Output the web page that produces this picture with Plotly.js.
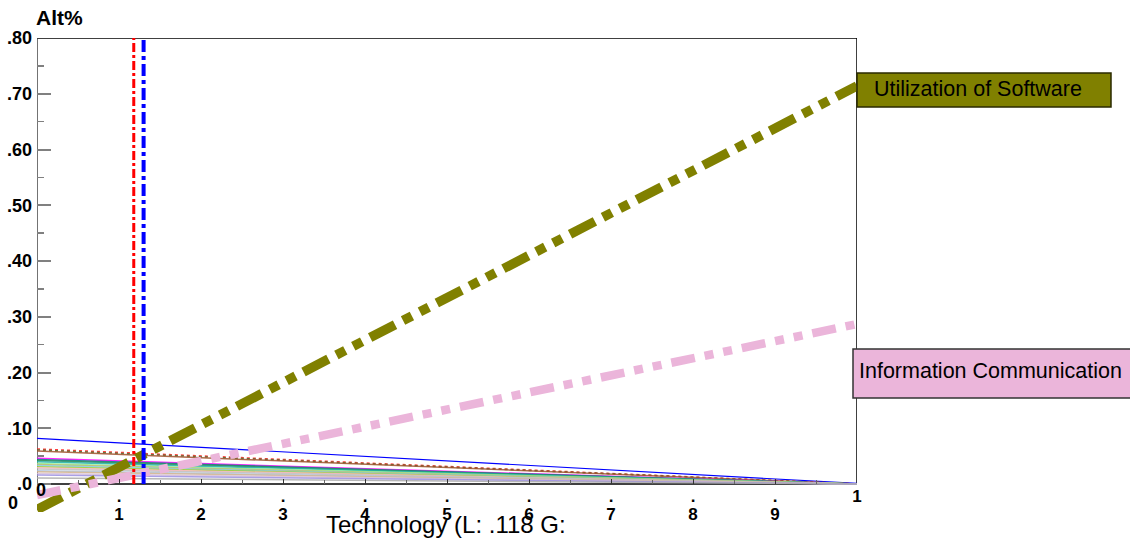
<!DOCTYPE html>
<html>
<head>
<meta charset="utf-8">
<script src="https://cdn.plot.ly/plotly-3.0.1.min.js"></script>
<style>html,body{margin:0;padding:0;background:#fff;}#chart{width:1130px;height:542px;}</style>
</head>
<body>
<div id="chart"></div>
<script>
// ---- data ----
var xEnds = [0, 1];
var softwareName = "Utilization of Software";
var softwareValues = [-0.046, 0.714];
var infoName = "Information Communication";
var infoValues = [-0.020, 0.287];
var localCut = 0.118;   // L
var globalCut = 0.130;  // G
var cutRange = [0, 0.8];
var clusterStart = [0.082, 0.063, 0.061, 0.059, 0.046, 0.044, 0.042, 0.040, 0.037, 0.035, 0.033, 0.031, 0.029, 0.027, 0.024, 0.022, 0.019, 0.016, 0.011];
var clusterEnd   = [0.001, 0.000, 0.000, 0.000, 0.000, 0.000, 0.000, 0.000, 0.000, 0.000, 0.000, 0.000, 0.000, 0.000, 0.000, 0.000, 0.000, 0.000, 0.000];
var yTickVals = [0, 0.1, 0.2, 0.3, 0.4, 0.5, 0.6, 0.7, 0.8];
var yTickText = [".0", ".10", ".20", ".30", ".40", ".50", ".60", ".70", ".80"];
var xTickVals = [0.1, 0.2, 0.3, 0.4, 0.5, 0.6, 0.7, 0.8, 0.9];
var xTickText = ["1", "2", "3", "4", "5", "6", "7", "8", "9"];
var xDotVals = [0.1, 0.2, 0.3, 0.4, 0.5, 0.6, 0.7, 0.8, 0.9, 1];
var xDotText = [".", ".", ".", ".", ".", ".", ".", ".", ".", "1"];
var yTitle = "Alt%";
var xTitle = "Technology (L: .118 G:";

// ---- styles ----
var clusterColors = ["#0000ff", "#ff2020", "#4b6b2a", "#a0522d", "#ff00ff", "#008080", "#2e8b57", "#20b2aa", "#90ee90", "#bdb76b", "#87ceeb", "#9acd32", "#ffb6c1", "#c0c0c0", "#b0c4de", "#d2b48c", "#d8bfd8", "#9b8fe0", "#a9a9a9"];
var clusterDash = ["solid", "dot", "dot", "solid", "solid", "solid", "solid", "solid", "solid", "solid", "solid", "solid", "solid", "solid", "solid", "solid", "solid", "solid", "solid"];
var FONT = "Liberation Sans, Arial, sans-serif";
var OLIVE = "#808000";
var PINK = "#ebb5da";

var traces = [];
for (var i = 0; i < clusterStart.length; i++) {
  traces.push({
    x: xEnds, y: [clusterStart[i], clusterEnd[i]], type: "scatter", mode: "lines",
    line: {color: clusterColors[i], width: i === 0 ? 1.2 : 1.5, dash: clusterDash[i]},
    opacity: i === 0 ? 1 : 0.85, hoverinfo: "skip", showlegend: false
  });
}
traces.push({x: xEnds, y: softwareValues, type: "scatter", mode: "lines", name: softwareName,
  line: {color: OLIVE, width: 9.5, dash: "28px,9px,10px,9px,10px,9px"}, showlegend: false});
traces.push({x: xEnds, y: infoValues, type: "scatter", mode: "lines", name: infoName,
  line: {color: PINK, width: 8.5, dash: "24px,10px,9px,10px,9px,10px"}, showlegend: false});
traces.push({x: [localCut, localCut], y: cutRange, type: "scatter", mode: "lines", name: "L",
  line: {color: "#ff0000", width: 3, dash: "dashdot"}, showlegend: false});
traces.push({x: [globalCut, globalCut], y: cutRange, type: "scatter", mode: "lines", name: "G",
  line: {color: "#0000ff", width: 4, dash: "dashdot"}, showlegend: false});
// invisible trace to carry the dot axis
traces.push({x: [0, 1], y: [0, 0], xaxis: "x2", type: "scatter", mode: "none", hoverinfo: "skip", showlegend: false});

var L = 37, R = 857, T = 38, B = 512, W = 1130, H = 542;
function px(x) { return (x - L) / (R - L); }
function py(y) { return (B - y) / (B - T); }

var layout = {
  width: W, height: H,
  margin: {l: L, r: W - R, t: T, b: H - B, pad: 0},
  paper_bgcolor: "#ffffff", plot_bgcolor: "#ffffff",
  showlegend: false,
  font: {family: FONT, color: "#000"},
  title: {text: yTitle, x: 36 / W, xanchor: "left", xref: "container", y: 1 - 18 / H, yanchor: "middle", yref: "container",
    font: {family: FONT, size: 21, weight: "bold", color: "#000"}},
  xaxis: {
    range: [0, 1], anchor: "free", position: 10 / 474, side: "bottom",
    tickvals: xTickVals, ticktext: xTickText, ticks: "",
    tickfont: {family: FONT, size: 17, weight: "bold", color: "#000"},
    showgrid: false, zeroline: false, showline: false, fixedrange: true
  },
  xaxis2: {
    range: [0, 1], overlaying: "x", anchor: "free", position: 28 / 474, side: "bottom",
    tickvals: xDotVals, ticktext: xDotText, ticks: "inside", ticklen: 5, tickwidth: 1, tickcolor: "#333",
    minor: {dtick: 0.05, tick0: 0, ticks: "inside", ticklen: 4, tickcolor: "#666"},
    tickfont: {family: FONT, size: 17, weight: "bold", color: "#000"},
    showgrid: false, zeroline: false, showline: false, fixedrange: true
  },
  yaxis: {
    range: [-0.0502, 0.8],
    tickvals: yTickVals, ticktext: yTickText, ticks: "inside", ticklen: 14, tickwidth: 2, tickcolor: "#808080",
    ticklabelstandoff: 4,
    minor: {tickvals: [0.05, 0.15, 0.25, 0.35, 0.45, 0.55, 0.65, 0.75], ticks: "inside", ticklen: 7, tickwidth: 1.5, tickcolor: "#808080"},
    tickfont: {family: FONT, size: 18, weight: "bold", color: "#000"},
    showgrid: false, zeroline: false, showline: false, fixedrange: true
  },
  shapes: [
    {type: "line", xref: "x", yref: "y", x0: 0, x1: 1, y0: 0.8, y1: 0.8, line: {color: "#000", width: 1.5}, layer: "below"},
    {type: "line", xref: "x", yref: "y", x0: 1, x1: 1, y0: 0, y1: 0.8, line: {color: "#000", width: 1.5}, layer: "below"},
    {type: "line", xref: "x", yref: "y", x0: 0, x1: 0, y0: 0, y1: 0.8, line: {color: "#444", width: 1.5}, layer: "below"},
    {type: "line", xref: "x", yref: "y", x0: 0, x1: 1, y0: 0, y1: 0, line: {color: "#000", width: 1.5}, layer: "below"},
    {type: "rect", xref: "paper", yref: "paper", x0: px(857), x1: px(1111), y0: py(107), y1: py(73),
      fillcolor: OLIVE, line: {color: "#2a2a00", width: 1.5}, layer: "above"},
    {type: "rect", xref: "paper", yref: "paper", x0: px(853), x1: px(1131), y0: py(398), y1: py(349),
      fillcolor: PINK, line: {color: "#333", width: 1.5}, layer: "above"}
  ],
  annotations: [
    {text: softwareName, xref: "paper", yref: "paper", x: px(872), y: py(89), xanchor: "left", yanchor: "middle",
      showarrow: false, font: {family: FONT, size: 21.5, color: "#000"}},
    {text: infoName, xref: "paper", yref: "paper", x: px(857), y: py(371), xanchor: "left", yanchor: "middle",
      showarrow: false, font: {family: FONT, size: 21.5, color: "#000"}},
    {text: xTitle, xref: "paper", yref: "paper", x: px(446), y: py(524), xanchor: "center", yanchor: "middle",
      showarrow: false, font: {family: FONT, size: 24, color: "#000"}},
    {text: "0", xref: "paper", yref: "paper", x: px(13), y: py(503), xanchor: "center", yanchor: "middle",
      showarrow: false, font: {family: FONT, size: 18, weight: "bold", color: "#000"}},
    {text: "0", xref: "paper", yref: "paper", x: px(41), y: py(490), xanchor: "center", yanchor: "middle",
      showarrow: false, font: {family: FONT, size: 18, weight: "bold", color: "#000"}}
  ]
};

Plotly.newPlot("chart", traces, layout, {displayModeBar: false, staticPlot: true});
</script>
</body>
</html>
